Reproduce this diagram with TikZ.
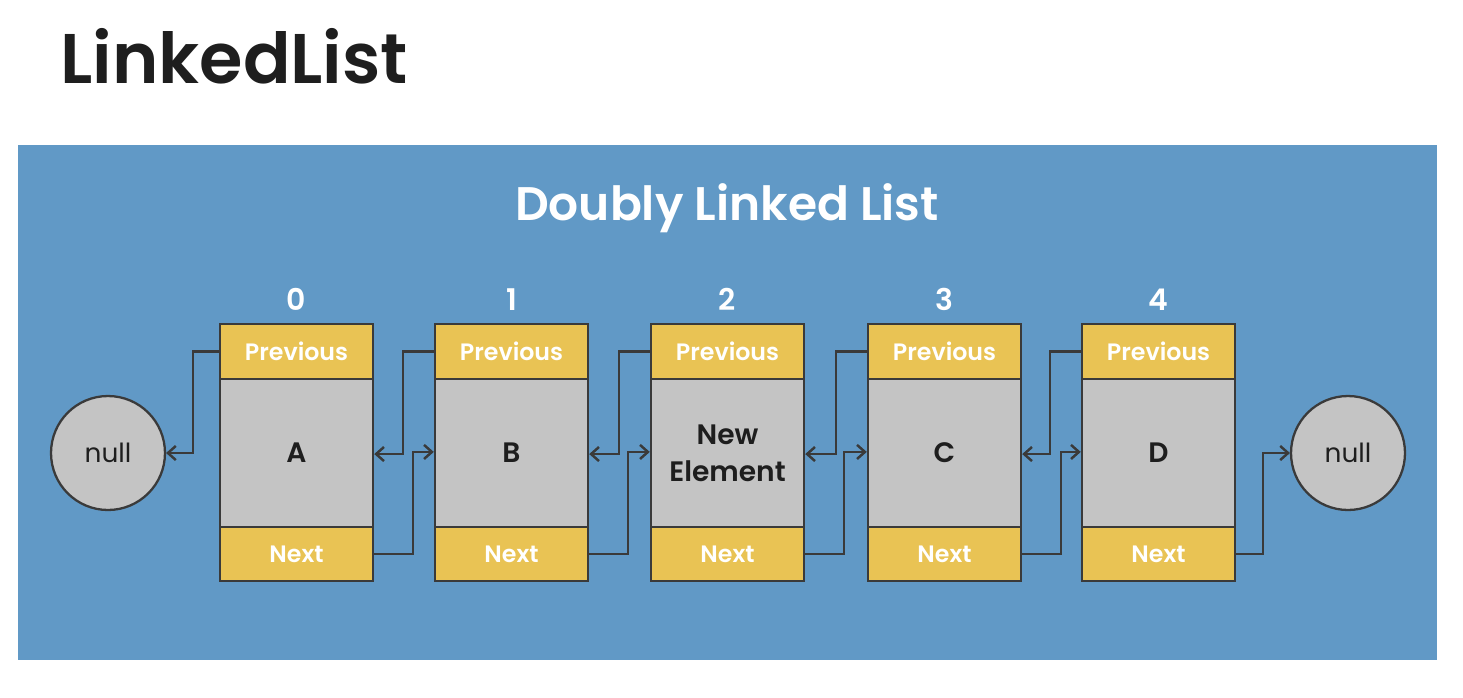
\documentclass[tikz,border=0pt]{standalone}
\usepackage{fontspec}
\setmainfont{Poppins}[BoldFont={Poppins SemiBold}]
\usepackage{tikz}
\usetikzlibrary{
    arrows.meta,
    positioning
}
\usepackage{xcolor}

\definecolor{panelblue}{HTML}{6199C6}
\definecolor{fieldyellow}{HTML}{E9C354}
\definecolor{datagray}{HTML}{C4C4C4}
\definecolor{linkgray}{HTML}{3A3A3A}
\definecolor{inkblack}{HTML}{1E1E1E}

\begin{document}
\begin{tikzpicture}[
        x=0.02cm, y=-0.02cm,
        >={Straight Barb[length=4.5pt,width=8pt]},
        field/.style={
            draw=linkgray,
            line width=1.5pt,
            fill=fieldyellow,
            minimum width=3.06cm,
            inner sep=0pt,
            outer sep=0pt,
            text=white,
            font=\fontsize{13.5}{16}\selectfont\bfseries
        },
        datafield/.style={
            field,
            fill=datagray,
            text=inkblack,
            align=center,
            minimum height=2.96cm,
            font=\fontsize{16}{21}\selectfont\bfseries
        },
        nullnode/.style={
            circle,
            draw=linkgray,
            line width=1.3pt,
            fill=datagray,
            minimum size=2.28cm,
            inner sep=0pt,
            outer sep=0pt,
            text=inkblack,
            font=\fontsize{15}{18}\selectfont
        },
        link/.style={
            draw=linkgray,
            line width=1.4pt
        }
    ]
        \useasboundingbox (0,0) rectangle (1463,697);
        \fill[panelblue] (18,145) rectangle (1437,660);

        \node[anchor=base west, inner sep=0pt, text=inkblack,
            font=\fontsize{40}{44}\selectfont\bfseries] (title) at (60,83) {LinkedList};
        \node[anchor=base, inner sep=0pt, text=white,
            font=\fontsize{26.8}{30}\selectfont\bfseries] (subtitle) at (727,220) {Doubly Linked List};

        % the list cells
        \foreach \i/\x/\lab in {0/296.5/A, 1/511.5/B, 2/727.5/{New\\Element}, 3/944.5/C, 4/1158.5/D} {
            \node[anchor=base, inner sep=0pt, text=white,
                font=\fontsize{17}{20}\selectfont\bfseries] (idx\i) at (\x,310) {\i};
            \node[field, minimum height=1.1cm] (prev\i) at (\x,351.5) {Previous};
            \node[datafield, below=0pt of prev\i] (data\i) {\lab};
            \node[field, minimum height=1.08cm, below=0pt of data\i] (next\i) {Next};
        }

        \node[nullnode] (nullL) at (108,453) {null};
        \node[nullnode] (nullR) at (1348,453) {null};

        % links between neighbours
        \foreach \j/\i in {0/1, 1/2, 2/3, 3/4} {
            \draw[link, ->] (prev\i.west) -- ++(-32,0) |- ([xshift=0.7pt,yshift=-0.6pt]data\j.east);
            \draw[link, ->] (next\j.east) -- ++(40,0) |- ([xshift=-0.7pt,yshift=0.6pt]data\i.west);
        }
        \draw[link, ->] (prev0.west) -- ++(-27,0) |- ([xshift=0.6pt]nullL.east);
        \draw[link, ->] (next4.east) -- ++(28,0) |- ([xshift=-0.6pt]nullR.west);
    \end{tikzpicture}
\end{document}
